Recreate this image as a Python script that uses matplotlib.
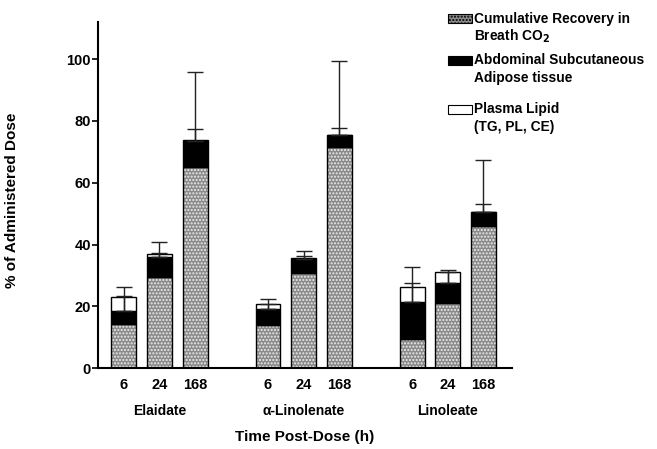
import numpy as np
import matplotlib
matplotlib.use('Agg')
import matplotlib.pyplot as plt
from matplotlib.patches import Rectangle
from matplotlib.transforms import blended_transform_factory

plt.rcParams['font.family'] = ['Liberation Sans', 'DejaVu Sans']
plt.rcParams['font.weight'] = 'bold'
plt.rcParams['axes.labelweight'] = 'bold'
plt.rcParams['hatch.linewidth'] = 1.0

groups = ['Elaidate', '\u03b1-Linolenate', 'Linoleate']
times = ['6', '24', '168']

# stacked segments (% of administered dose), groups x times
breath = np.array([[14.3, 29.6, 65.0],
                   [14.0, 30.7, 71.6],
                   [9.4, 21.2, 45.9]])
adipose = np.array([[4.3, 6.5, 8.4],
                    [5.0, 4.6, 3.8],
                    [12.1, 6.3, 4.5]])
plasma = np.array([[4.5, 0.9, 0.3],
                   [1.7, 0.3, 0.2],
                   [4.7, 3.6, 0.2]])
# upper error bars, measured from top of adipose segment
err_small = np.array([[4.8, 1.2, 4.1],
                      [1.9, 1.0, 2.4],
                      [6.0, 3.6, 2.8]])
err_large = np.array([[7.6, 4.7, 22.3],
                      [3.3, 2.7, 24.1],
                      [11.2, 4.3, 17.1]])

GRAY = '#8a8a8a'
DOTS = '#ececec'

fig = plt.figure(figsize=(6.57, 4.49), dpi=100)
ax = fig.add_axes([0.149, 0.180, 0.630, 0.771])

gap = 4.05
width = 0.7
xs = np.array([[g * gap + i for i in range(3)] for g in range(3)])

for g in range(3):
    x = xs[g]
    # textured fill first, outline on top
    ax.bar(x, breath[g], width, color=GRAY, hatch='.....', edgecolor=DOTS,
           linewidth=0, zorder=2)
    ax.bar(x, breath[g], width, fill=False, edgecolor='black', linewidth=1.0, zorder=2)
    ax.bar(x, adipose[g], width, bottom=breath[g], color='black',
           edgecolor='black', linewidth=1.0, zorder=2)
    ax.bar(x, plasma[g], width, bottom=breath[g] + adipose[g], color='white',
           edgecolor='black', linewidth=1.0, zorder=2)
    base = breath[g] + adipose[g]
    ax.errorbar(x, base, yerr=[np.zeros(3), err_large[g]], fmt='none',
                ecolor='#222222', elinewidth=1.0, capsize=6, capthick=1.0, zorder=3)
    ax.errorbar(x, base, yerr=[np.zeros(3), err_small[g]], fmt='none',
                ecolor='#222222', elinewidth=1.0, capsize=6, capthick=1.0, zorder=3)

ax.set_xlim(xs[0, 0] - 0.73, xs[2, 2] + 0.8)
ax.set_ylim(0, 112)
ax.set_yticks([0, 20, 40, 60, 80, 100])
ax.set_xticks(xs.ravel())
ax.set_xticklabels(times * 3)
ax.tick_params(axis='x', length=0, pad=7, labelsize=10.5)
ax.tick_params(axis='y', length=4, width=1.2, pad=1, labelsize=10.5)
for s in ['top', 'right']:
    ax.spines[s].set_visible(False)
for s in ['left', 'bottom']:
    ax.spines[s].set_linewidth(1.5)

trans = blended_transform_factory(ax.transData, ax.transAxes)
for g in range(3):
    ax.text(xs[g, 1], -0.125, groups[g], transform=trans, ha='center', va='center',
            fontsize=10)

ax.set_xlabel('Time Post-Dose (h)', fontsize=11, va='center')
ax.xaxis.set_label_coords(0.5, -0.198)
ax.set_ylabel('% of Administered Dose', fontsize=11, va='center')
ax.yaxis.set_label_coords(-0.207, 0.485)

# legend drawn by hand so the swatch sits beside the first line of each entry
W, H = 657.0, 449.0
entries = [
    (dict(facecolor=GRAY, hatch='.....'), 14, ['Cumulative Recovery in', 'Breath CO$_\\mathbf{2}$']),
    (dict(facecolor='black'), 56, ['Abdominal Subcutaneous', 'Adipose tissue']),
    (dict(facecolor='white'), 105, ['Plasma Lipid', '(TG, PL, CE)']),
]
for style, ytop, lines in entries:
    fig.patches.append(Rectangle((448 / W, 1 - (ytop + 9) / H), 24 / W, 9 / H,
                                 transform=fig.transFigure, edgecolor='black',
                                 linewidth=0.8, **style))
    for k, line in enumerate(lines):
        fig.text(474 / W, 1 - (ytop + 4.5 + 17.5 * k) / H, line, fontsize=9.9,
                 va='center', ha='left')

fig.savefig('out.png', dpi=100)
